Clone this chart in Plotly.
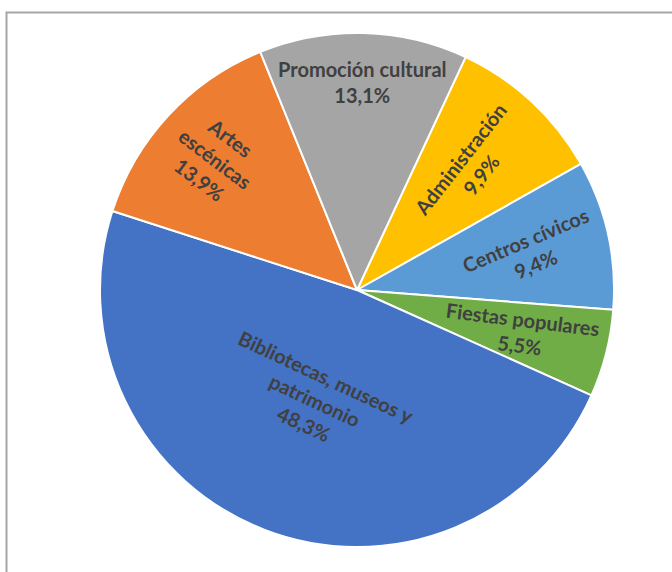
import math
import plotly.graph_objects as go

labels = ["Administración", "Centros cívicos", "Fiestas populares",
          "Bibliotecas, museos y patrimonio", "Artes escénicas", "Promoción cultural"]
values = [9.9, 9.4, 5.5, 48.3, 13.9, 13.1]
label_text = ["Administración<br>9,9%", "Centros cívicos<br>9,4%", "Fiestas populares<br>5,5%",
              "Bibliotecas, museos y<br>patrimonio<br>48,3%", "Artes<br>escénicas<br>13,9%",
              "Promoción cultural<br>13,1%"]
colors = ["#FFC000", "#5B9BD5", "#70AD47", "#4472C4", "#ED7D31", "#A5A5A5"]

# label styling
label_radius = [0.65, 0.69, 0.66, 0.46, 0.75, 0.81]
label_angle = [-52, -23, 7, 25, 37, 0]

W, H = 672, 572
cx, cy, R = 357, 290, 257
rotation = 25

fig = go.Figure()
fig.add_trace(go.Pie(
    labels=labels, values=values, sort=False, direction="clockwise",
    rotation=rotation, textinfo="none", hoverinfo="label+percent",
    marker=dict(colors=colors, line=dict(color="white", width=2)),
    domain=dict(x=[(cx - R) / W, (cx + R) / W], y=[(H - cy - R) / H, (H - cy + R) / H]),
    showlegend=False,
))

total = sum(values)
cum = 0
annotations = []
for i, v in enumerate(values):
    mid = rotation + (cum + v / 2) / total * 360
    cum += v
    a = math.radians(mid)
    px = cx + label_radius[i] * R * math.sin(a)
    py = cy - label_radius[i] * R * math.cos(a)
    annotations.append(dict(
        x=px / W, y=1 - py / H, xref="paper", yref="paper",
        text=label_text[i], showarrow=False, textangle=label_angle[i],
        xanchor="center", yanchor="middle", align="center",
        font=dict(family="Lato", size=20, color="#404040", weight="bold"),
    ))

fig.update_layout(
    width=W, height=H, margin=dict(l=0, r=0, t=0, b=0),
    paper_bgcolor="white", plot_bgcolor="white",
    annotations=annotations,
    shapes=[dict(type="rect", xref="paper", yref="paper",
                 x0=6.5 / W, x1=1.05, y0=-0.05, y1=1 - 12.5 / H,
                 line=dict(color="#A6A6A6", width=2), fillcolor="rgba(0,0,0,0)")],
)

fig.write_html("out.html")
